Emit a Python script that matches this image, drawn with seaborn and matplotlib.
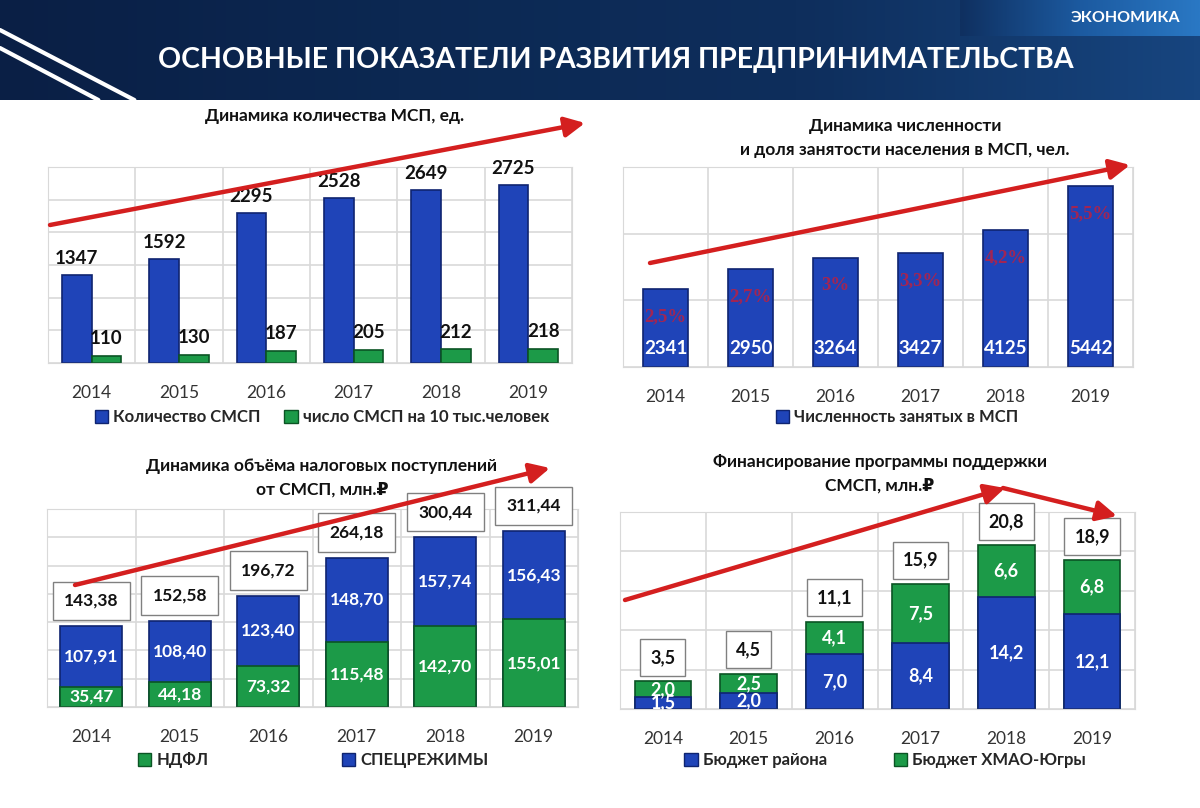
import numpy as np
import pandas as pd
import matplotlib
matplotlib.use("Agg")
import matplotlib.pyplot as plt
import seaborn as sns
from matplotlib.patches import Patch, FancyArrowPatch
from matplotlib.colors import LinearSegmentedColormap

years = ["2014", "2015", "2016", "2017", "2018", "2019"]

# Динамика количества МСП
smsp_count = [1347, 1592, 2295, 2528, 2649, 2725]
smsp_per10k = [110, 130, 187, 205, 212, 218]

# Численность занятых в МСП и доля занятости
employed = [2341, 2950, 3264, 3427, 4125, 5442]
employed_share = ["2,5%", "2,7%", "3%", "3,3%", "4,2%", "5,5%"]

# Налоговые поступления от СМСП
ndfl = [35.47, 44.18, 73.32, 115.48, 142.70, 155.01]
spec = [107.91, 108.40, 123.40, 148.70, 157.74, 156.43]
tax_total = [143.38, 152.58, 196.72, 264.18, 300.44, 311.44]

# Финансирование программы поддержки
budget_district = [1.5, 2.0, 7.0, 8.4, 14.2, 12.1]
budget_hmao = [2.0, 2.5, 4.1, 7.5, 6.6, 6.8]
fund_total = [3.5, 4.5, 11.1, 15.9, 20.8, 18.9]

BLUE = "#1f44b8"
BLUE_EDGE = "#0f2470"
GREEN = "#1c9a48"
GREEN_EDGE = "#0b5424"
GRID = "#d9d9d9"

sns.set_style("white")
plt.rcParams["font.family"] = ["Lato", "DejaVu Sans"]

W, H = 1200, 808
fig = plt.figure(figsize=(12, 8.08), dpi=100)


def px_axes(left, top, right, bottom):
    return fig.add_axes([left / W, 1 - bottom / H, (right - left) / W, (bottom - top) / H])


def fx(x):
    return x / W


def fy(y):
    return 1 - y / H


def fmt(v, nd):
    return f"{v:.{nd}f}".replace(".", ",")


def style_axes(ax, ymax, step):
    ax.set_xlim(-0.5, 5.5)
    ax.set_ylim(0, ymax)
    ax.set_yticks(np.arange(0, ymax + step / 2, step))
    ax.set_xticks(np.arange(-0.5, 6, 1), minor=True)
    ax.grid(axis="y", which="major", color=GRID, lw=1.2)
    ax.grid(axis="x", which="minor", color=GRID, lw=1.2)
    ax.grid(axis="x", which="major", visible=False)
    ax.set_axisbelow(True)
    ax.tick_params(axis="both", which="both", length=0)
    ax.tick_params(axis="x", labelsize=12.5, labelcolor="#333333", pad=16)
    ax.set_yticklabels([])
    ax.set_xlabel("")
    ax.set_ylabel("")
    for s in ax.spines.values():
        s.set_color(GRID)
    if ax.get_legend() is not None:
        ax.get_legend().remove()


LEG = dict(frameon=False, handlelength=0.8, handleheight=0.8, handletextpad=0.3,
           prop={"size": 12, "weight": "bold"})

# ---------- header ----------
hdr = fig.add_axes([0, 1 - 100 / H, 1, 100 / H])
grad = np.linspace(0, 1, 400).reshape(1, -1)
cmap = LinearSegmentedColormap.from_list("hdr", ["#0a1f45", "#0c2852", "#0e2e5c", "#17457f"])
hdr.imshow(grad, aspect="auto", cmap=cmap, extent=[0, 1, 0, 1])
strip = np.linspace(0, 1, 200).reshape(1, -1)
cmap2 = LinearSegmentedColormap.from_list("strip", ["#0f3060", "#1c5aa0", "#2a78c4"])
hdr.imshow(strip, aspect="auto", cmap=cmap2, extent=[0.80, 1, 0.64, 1])
hdr.plot([0, 0.112], [0.70, 0.0], color="white", lw=3)
hdr.plot([0, 0.082], [0.52, 0.0], color="white", lw=3)
hdr.set_xlim(0, 1)
hdr.set_ylim(0, 1)
hdr.axis("off")
fig.text(fx(1180), fy(18), "ЭКОНОМИКА", color="white", fontsize=11.5, fontweight="bold",
         ha="right", va="center")
fig.text(fx(616), fy(60), "ОСНОВНЫЕ ПОКАЗАТЕЛИ РАЗВИТИЯ ПРЕДПРИНИМАТЕЛЬСТВА", color="white",
         fontsize=20.5, fontweight="bold", ha="center", va="center")

# ---------- top-left: count of SMEs ----------
ax1 = px_axes(48, 167, 572, 363)
df1 = pd.DataFrame({
    "year": years * 2,
    "value": smsp_count + smsp_per10k,
    "series": ["Количество СМСП"] * 6 + ["число СМСП на 10 тыс.человек"] * 6,
})
sns.barplot(data=df1, x="year", y="value", hue="series", palette=[BLUE, GREEN], saturation=1,
            width=0.68, gap=0, ax=ax1, edgecolor=BLUE_EDGE, linewidth=1.2, legend=False)
for cont, edge in zip(ax1.containers, [BLUE_EDGE, GREEN_EDGE]):
    for p in cont:
        p.set_edgecolor(edge)
ax1.bar_label(ax1.containers[0], labels=[str(v) for v in smsp_count], padding=6,
              fontsize=13.5, fontweight="bold", color="#111111")
ax1.bar_label(ax1.containers[1], labels=[str(v) for v in smsp_per10k], padding=6,
              fontsize=13.5, fontweight="bold", color="#111111")
style_axes(ax1, 3000, 500)
fig.text(fx(335), fy(116), "Динамика количества МСП, ед.", fontsize=12.5, fontweight="bold",
         ha="center", va="center", color="#111111")
fig.legend(handles=[Patch(facecolor=BLUE, edgecolor=BLUE_EDGE, label="Количество СМСП"),
                    Patch(facecolor=GREEN, edgecolor=GREEN_EDGE, label="число СМСП на 10 тыс.человек")],
           loc="center", bbox_to_anchor=(fx(322), fy(417)), ncol=2, columnspacing=1.4, **LEG)

# ---------- top-right: employment ----------
ax2 = px_axes(623, 167, 1133, 367)
df2 = pd.DataFrame({"year": years, "value": employed})
sns.barplot(data=df2, x="year", y="value", color=BLUE, saturation=1, width=0.52, ax=ax2,
            edgecolor=BLUE_EDGE, linewidth=1.2)
for i, (v, s) in enumerate(zip(employed, employed_share)):
    ax2.annotate(str(v), xy=(i, 0), xytext=(0, 13), textcoords="offset points",
                 ha="center", va="center", fontsize=13.5, fontweight="bold", color="white")
    ax2.annotate(s, xy=(i, v), xytext=(0, -20), textcoords="offset points",
                 ha="center", va="center", fontsize=13.5, fontweight="bold", color="#c41e3a",
                 family=["Liberation Serif", "DejaVu Serif"], alpha=0.8)
style_axes(ax2, 6000, 2000)
fig.text(fx(905), fy(126), "Динамика численности", fontsize=12.5, fontweight="bold",
         ha="center", va="center", color="#111111")
fig.text(fx(905), fy(150), "и доля занятости населения в МСП, чел.", fontsize=12.5,
         fontweight="bold", ha="center", va="center", color="#111111")
fig.legend(handles=[Patch(facecolor=BLUE, edgecolor=BLUE_EDGE, label="Численность занятых в МСП")],
           loc="center", bbox_to_anchor=(fx(897), fy(417)), **LEG)

# ---------- bottom-left: tax revenue ----------
ax3 = px_axes(47, 509, 578, 707)
df3 = pd.DataFrame({"year": years, "total": tax_total, "ndfl": ndfl})
sns.barplot(data=df3, x="year", y="total", color=BLUE, saturation=1, width=0.7, ax=ax3,
            edgecolor=BLUE_EDGE, linewidth=1.2)
sns.barplot(data=df3, x="year", y="ndfl", color=GREEN, saturation=1, width=0.7, ax=ax3,
            edgecolor=GREEN_EDGE, linewidth=1.2)
for i in range(6):
    ax3.text(i, ndfl[i] / 2, fmt(ndfl[i], 2), ha="center", va="center", fontsize=12.5,
             fontweight="bold", color="white")
    ax3.text(i, ndfl[i] + spec[i] / 2, fmt(spec[i], 2), ha="center", va="center",
             fontsize=12.5, fontweight="bold", color="white")
    ax3.annotate(fmt(tax_total[i], 2), xy=(i, tax_total[i]), xytext=(0, 18),
                 textcoords="offset points", ha="center", va="center", fontsize=12.5,
                 fontweight="bold", color="#111111",
                 bbox=dict(boxstyle="square,pad=0.65", fc="white", ec="#808080", lw=1))
style_axes(ax3, 350, 50)
fig.text(fx(322), fy(466), "Динамика объёма налоговых поступлений", fontsize=12.5,
         fontweight="bold", ha="center", va="center", color="#111111")
fig.text(fx(322), fy(490), "от СМСП, млн.₽", fontsize=12.5, fontweight="bold",
         ha="center", va="center", color="#111111")
fig.legend(handles=[Patch(facecolor=GREEN, edgecolor=GREEN_EDGE, label="НДФЛ"),
                    Patch(facecolor=BLUE, edgecolor=BLUE_EDGE, label="СПЕЦРЕЖИМЫ")],
           loc="center", bbox_to_anchor=(fx(313), fy(760)), ncol=2, columnspacing=8.0, **LEG)

# ---------- bottom-right: support program funding ----------
ax4 = px_axes(620, 512, 1135, 709)
df4 = pd.DataFrame({"year": years, "total": fund_total, "district": budget_district})
sns.barplot(data=df4, x="year", y="total", color=GREEN, saturation=1, width=0.66, ax=ax4,
            edgecolor=GREEN_EDGE, linewidth=1.2)
sns.barplot(data=df4, x="year", y="district", color=BLUE, saturation=1, width=0.66, ax=ax4,
            edgecolor=BLUE_EDGE, linewidth=1.2)
for i in range(6):
    ax4.text(i, budget_district[i] / 2, fmt(budget_district[i], 1), ha="center", va="center",
             fontsize=13, fontweight="bold", color="white")
    ax4.text(i, budget_district[i] + budget_hmao[i] / 2, fmt(budget_hmao[i], 1), ha="center",
             va="center", fontsize=13, fontweight="bold", color="white")
    ax4.annotate(fmt(fund_total[i], 1), xy=(i, fund_total[i]), xytext=(0, 17),
                 textcoords="offset points", ha="center", va="center", fontsize=13,
                 fontweight="bold", color="#111111",
                 bbox=dict(boxstyle="square,pad=0.55", fc="white", ec="#808080", lw=1))
style_axes(ax4, 25, 5)
fig.text(fx(880), fy(462), "Финансирование программы поддержки", fontsize=12.5,
         fontweight="bold", ha="center", va="center", color="#111111")
fig.text(fx(880), fy(486), "СМСП, млн.₽", fontsize=12.5, fontweight="bold",
         ha="center", va="center", color="#111111")
fig.legend(handles=[Patch(facecolor=BLUE, edgecolor=BLUE_EDGE, label="Бюджет района"),
                    Patch(facecolor=GREEN, edgecolor=GREEN_EDGE, label="Бюджет ХМАО-Югры")],
           loc="center", bbox_to_anchor=(fx(885), fy(760)), ncol=2, columnspacing=4.0, **LEG)

# ---------- red trend arrows ----------
def arrow(p0, p1, head=True):
    style = "-|>,head_length=8,head_width=4" if head else "-"
    fig.add_artist(FancyArrowPatch((fx(p0[0]), fy(p0[1])), (fx(p1[0]), fy(p1[1])),
                                   transform=fig.transFigure, arrowstyle=style,
                                   color="#d41f1f", lw=3.2, mutation_scale=1.5,
                                   shrinkA=0, shrinkB=0))


arrow((50, 225), (585, 123))
arrow((650, 263), (1130, 165))
arrow((75, 585), (550, 468))
arrow((625, 600), (1005, 488))
arrow((1003, 488), (1117, 516))

fig.savefig("out.png", dpi=100)
